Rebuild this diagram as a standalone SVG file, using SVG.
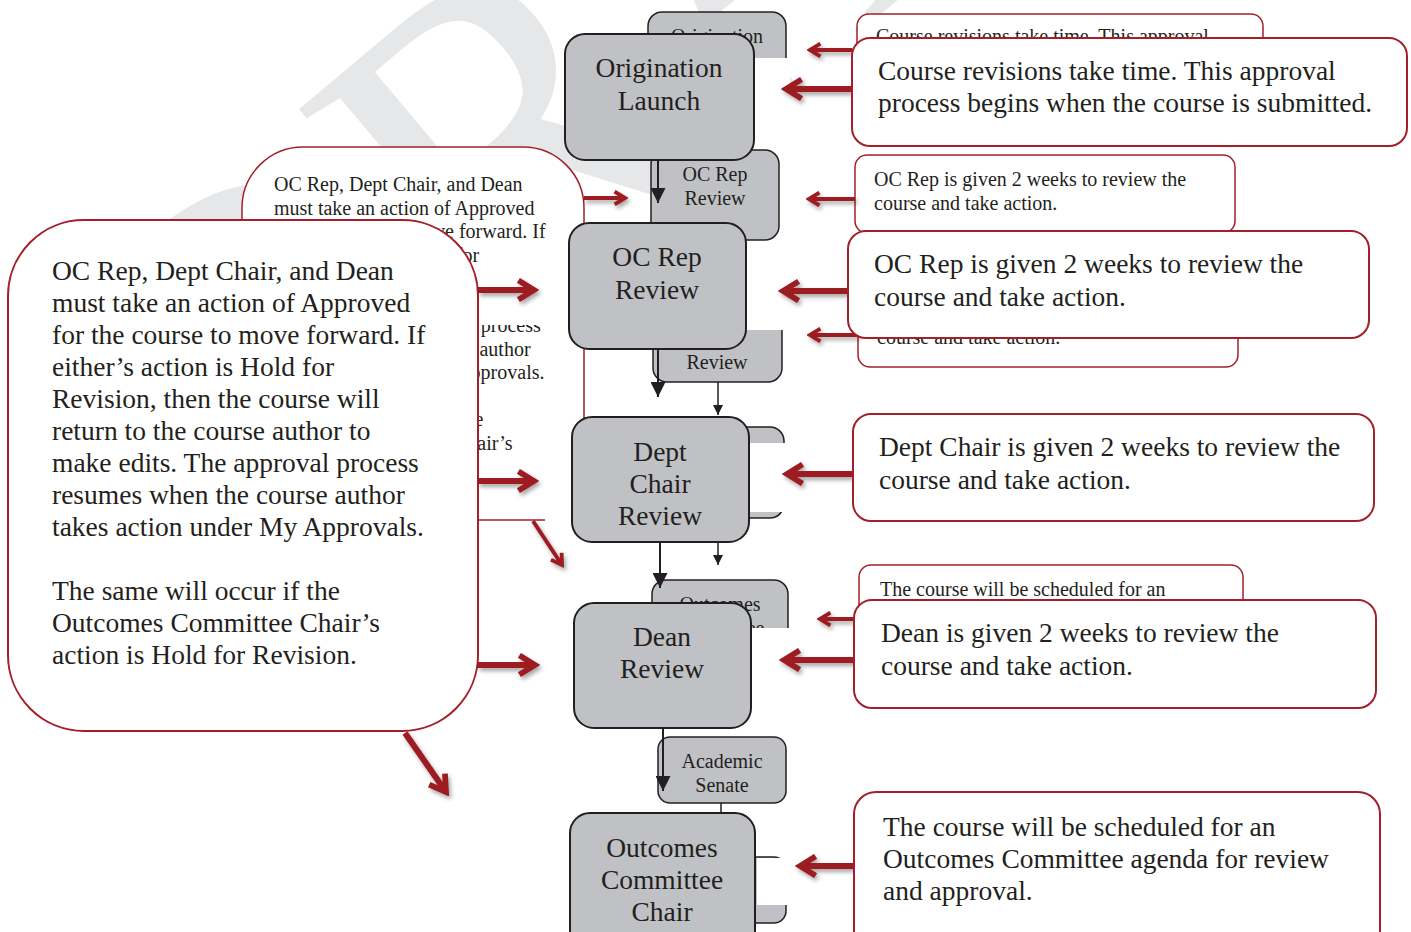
<svg xmlns="http://www.w3.org/2000/svg" width="1411" height="932" viewBox="0 0 1411 932">
<defs>
<style>
.node{fill:#c0c1c5;stroke:#231f20;stroke-width:2}
.gnode{fill:#c0c1c5;stroke:#231f20;stroke-width:1.5}
.call{fill:#fff;stroke:#a3202a;stroke-width:2}
.gcall{fill:#fff;stroke:#a3202a;stroke-width:1.5}
.t{font-family:"Liberation Serif","Times New Roman",serif;font-size:27.5px;fill:#231f20}
.gt{font-family:"Liberation Serif","Times New Roman",serif;font-size:20px;fill:#231f20}
.c{text-anchor:middle}
.ra{fill:none;stroke:#9d1c23;stroke-width:6;marker-end:url(#rh)}
.gra{fill:none;stroke:#9d1c23;stroke-width:4;marker-end:url(#rh)}
.ba{fill:none;stroke:#231f20;stroke-width:2;marker-end:url(#bh)}
.gba{fill:none;stroke:#231f20;stroke-width:1.5;marker-end:url(#gbh)}
.wm{font-family:"Liberation Serif","Times New Roman",serif;font-size:460px;fill:#e6e7e8}
</style>
<marker id="rh" viewBox="0 0 10 10" refX="8" refY="5" markerWidth="4" markerHeight="4" orient="auto" markerUnits="strokeWidth">
<path d="M1.5,1 L8,5 L1.5,9" fill="none" stroke="#9d1c23" stroke-width="2.4" stroke-linejoin="miter"/>
</marker>
<marker id="bh" viewBox="0 0 10 10" refX="10" refY="5" markerWidth="17" markerHeight="15" orient="auto" markerUnits="userSpaceOnUse">
<path d="M0,0 L10,5 L0,10 Z" fill="#231f20"/>
</marker>
<marker id="gbh" viewBox="0 0 10 10" refX="10" refY="5" markerWidth="11" markerHeight="10" orient="auto" markerUnits="userSpaceOnUse">
<path d="M0,0 L10,5 L0,10 Z" fill="#231f20"/>
</marker>
<filter id="sh" x="-30%" y="-50%" width="160%" height="200%">
<feDropShadow dx="2" dy="3" stdDeviation="2" flood-color="#000" flood-opacity="0.35"/>
</filter>
</defs>
<rect width="1411" height="932" fill="#fff"/>
<g id="watermark">
<text class="wm" transform="translate(228,562) rotate(-40)">DRAFT</text>
</g>

<!-- ghost (earlier version) layer -->
<g id="ghost-layer">
<g id="g-callout-left">
<path class="gcall" d="M242,520 V208 A61,61 0 0 1 303,147 H523 A61,61 0 0 1 584,208 V520 Z"/>
<text class="gt" x="274" y="191">OC Rep, Dept Chair, and Dean</text>
<text class="gt" x="274" y="214.5">must take an action of Approved</text>
<text class="gt" x="274" y="238">for the course to move forward. If</text>
<text class="gt" x="274" y="261.5">either’s action is Hold for</text>
<text class="gt" x="274" y="285">Revision, then the course will</text>
<text class="gt" x="274" y="308.5">return to the course author to</text>
<text class="gt" x="274" y="332">make edits. The approval process</text>
<text class="gt" x="274" y="355.5">resumes when the course author</text>
<text class="gt" x="274" y="379">takes action under My Approvals.</text>
<text class="gt" x="274" y="426">The same will occur if the</text>
<text class="gt" x="274" y="449.5">Outcomes Committee Chair’s</text>
<text class="gt" x="274" y="473">action is Hold for Revision.</text>
</g>
<g id="g-node-orig">
<rect class="gnode" x="648" y="12" width="138" height="90" rx="14"/>
<text class="gt c" x="717" y="43">Origination</text>
</g>
<g id="g-node-ocrep">
<rect class="gnode" x="651" y="150" width="128" height="90" rx="14"/>
<text class="gt c" x="715" y="181">OC Rep</text>
<text class="gt c" x="715" y="205">Review</text>
</g>
<g id="g-node-dept">
<rect class="gnode" x="653" y="290" width="129" height="92" rx="14"/>
<text class="gt c" x="717" y="369">Review</text>
</g>
<g id="g-node-dean">
<rect class="gnode" x="680" y="427" width="104" height="91" rx="14"/>
</g>
<g id="g-node-outcomes">
<rect class="gnode" x="652" y="580" width="136" height="120" rx="14"/>
<text class="gt c" x="720" y="611">Outcomes</text>
<text class="gt c" x="720" y="635">Committee</text>
</g>
<g id="g-node-senate">
<rect class="gnode" x="658" y="737" width="128" height="66" rx="12"/>
<text class="gt c" x="722" y="768">Academic</text>
<text class="gt c" x="722" y="792">Senate</text>
</g>
<g id="g-node-last">
<rect class="gnode" x="680" y="857" width="106" height="66" rx="12"/>
</g>
<g id="g-callout-1">
<rect class="gcall" x="857" y="14" width="406" height="60" rx="12"/>
<text class="gt" x="876" y="43">Course revisions take time. This approval</text>
</g>
<g id="g-callout-2">
<rect class="gcall" x="855" y="155" width="380" height="78" rx="12"/>
<text class="gt" x="874" y="186">OC Rep is given 2 weeks to review the</text>
<text class="gt" x="874" y="210">course and take action.</text>
</g>
<g id="g-callout-3">
<rect class="gcall" x="858" y="290" width="380" height="77" rx="12"/>
<text class="gt" x="877" y="344">course and take action.</text>
</g>
<g id="g-callout-4">
<rect class="gcall" x="859" y="565" width="384" height="80" rx="12"/>
<text class="gt" x="880" y="596">The course will be scheduled for an</text>
</g>
<g id="g-connectors">
<path class="gba" d="M718,382 V415"/>
<path class="gba" d="M718,518 V565"/>
<path d="M721,803 V813" stroke="#231f20" stroke-width="1.5"/>
<g filter="url(#sh)">
<path class="gra" d="M852,50 H810"/>
<path class="gra" d="M855,199 H809"/>
<path class="gra" d="M858,335 H810"/>
<path class="gra" d="M859,619 H820"/>
<path class="gra" d="M584,198 H625"/>
</g>
</g>
</g>

<!-- white masks from the newer layer -->
<g id="masks" fill="#fff">
<rect x="640" y="58" width="150" height="90"/>
<rect x="640" y="241" width="150" height="89"/>
<rect x="750" y="443" width="45" height="69"/>
<rect x="640" y="628" width="152" height="108"/>
<rect x="757" y="858" width="40" height="47"/>
<rect x="478" y="256" width="92" height="69"/>
<rect x="478" y="455" width="92" height="55"/>
<rect x="545" y="514" width="27" height="12"/>
</g>
<g id="g-arrow-diag" filter="url(#sh)">
<path class="gra" d="M533,521 L562,565"/>
</g>

<!-- current layer -->
<g id="callout-left">
<rect class="call" x="8" y="220" width="470" height="511" rx="76"/>
<text class="t" x="52" y="280">OC Rep, Dept Chair, and Dean</text>
<text class="t" x="52" y="312">must take an action of Approved</text>
<text class="t" x="52" y="344">for the course to move forward. If</text>
<text class="t" x="52" y="376">either’s action is Hold for</text>
<text class="t" x="52" y="408">Revision, then the course will</text>
<text class="t" x="52" y="440">return to the course author to</text>
<text class="t" x="52" y="472">make edits. The approval process</text>
<text class="t" x="52" y="504">resumes when the course author</text>
<text class="t" x="52" y="536">takes action under My Approvals.</text>
<text class="t" x="52" y="600">The same will occur if the</text>
<text class="t" x="52" y="632">Outcomes Committee Chair’s</text>
<text class="t" x="52" y="664">action is Hold for Revision.</text>
</g>

<g id="connectors">
<path class="ba" d="M658,160 V203"/>
<path class="ba" d="M658,349 V397"/>
<path class="ba" d="M660,542 V588"/>
<path class="ba" d="M663,728 V791"/>
<g filter="url(#sh)">
<path class="ra" d="M852,89 H786"/>
<path class="ra" d="M848,291 H783"/>
<path class="ra" d="M853,474 H787"/>
<path class="ra" d="M854,660 H784"/>
<path class="ra" d="M854,866 H800"/>
<path class="ra" d="M478,290 H534"/>
<path class="ra" d="M478,481 H534"/>
<path class="ra" d="M478,665 H535"/>
<path class="ra" d="M405,733 L446,792"/>
</g>
</g>

<g id="node-orig">
<rect class="node" x="565" y="34" width="189" height="126" rx="20"/>
<text class="t c" x="659" y="77">Origination</text>
<text class="t c" x="659" y="110">Launch</text>
</g>
<g id="node-ocrep">
<rect class="node" x="569" y="223" width="177" height="126" rx="20"/>
<text class="t c" x="657" y="266">OC Rep</text>
<text class="t c" x="657" y="299">Review</text>
</g>
<g id="node-dept">
<rect class="node" x="572" y="417" width="177" height="125" rx="20"/>
<text class="t c" x="660" y="461">Dept</text>
<text class="t c" x="660" y="493">Chair</text>
<text class="t c" x="660" y="525">Review</text>
</g>
<g id="node-dean">
<rect class="node" x="574" y="603" width="177" height="125" rx="20"/>
<text class="t c" x="662" y="646">Dean</text>
<text class="t c" x="662" y="678">Review</text>
</g>
<g id="node-outcomes">
<rect class="node" x="570" y="813" width="185" height="140" rx="20"/>
<text class="t c" x="662" y="857">Outcomes</text>
<text class="t c" x="662" y="889">Committee</text>
<text class="t c" x="662" y="921">Chair</text>
</g>

<g id="callout-1">
<rect class="call" x="852" y="38" width="555" height="108" rx="18"/>
<text class="t" x="878" y="80">Course revisions take time. This approval</text>
<text class="t" x="878" y="112">process begins when the course is submitted.</text>
</g>
<g id="callout-2">
<rect class="call" x="848" y="231" width="521" height="107" rx="18"/>
<text class="t" x="874" y="273">OC Rep is given 2 weeks to review the</text>
<text class="t" x="874" y="306">course and take action.</text>
</g>
<g id="callout-3">
<rect class="call" x="853" y="414" width="521" height="107" rx="18"/>
<text class="t" x="879" y="456">Dept Chair is given 2 weeks to review the</text>
<text class="t" x="879" y="489">course and take action.</text>
</g>
<g id="callout-4">
<rect class="call" x="854" y="600" width="522" height="108" rx="18"/>
<text class="t" x="881" y="642">Dean is given 2 weeks to review the</text>
<text class="t" x="881" y="675">course and take action.</text>
</g>
<g id="callout-5">
<rect class="call" x="854" y="792" width="526" height="170" rx="22"/>
<text class="t" x="883" y="836">The course will be scheduled for an</text>
<text class="t" x="883" y="868">Outcomes Committee agenda for review</text>
<text class="t" x="883" y="900">and approval.</text>
</g>
</svg>
